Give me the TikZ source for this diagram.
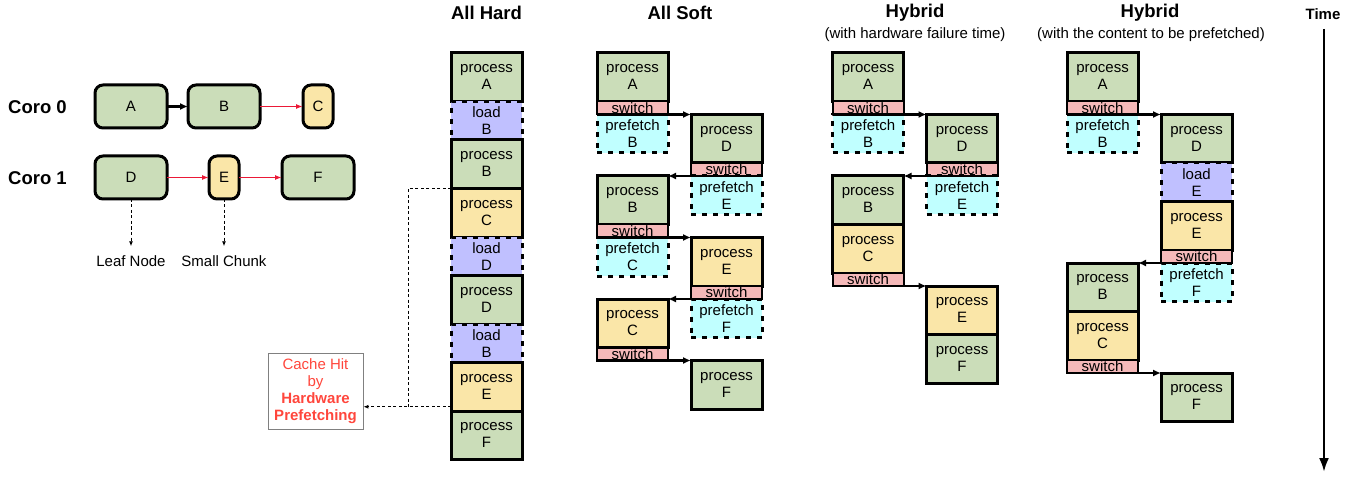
\documentclass[tikz,border=0pt]{standalone}
\usepackage{fontspec}
\setmainfont{Liberation Sans}
\usetikzlibrary{positioning,arrows.meta}
\definecolor{procgreen}{RGB}{203,221,185}
\definecolor{procyellow}{RGB}{250,230,168}
\definecolor{loadblue}{RGB}{192,192,255}
\definecolor{prefcyan}{RGB}{192,255,255}
\definecolor{swpink}{RGB}{245,185,185}
\definecolor{hitred}{RGB}{255,70,60}
\definecolor{edgered}{RGB}{235,25,55}
\tikzset{
  txt/.style={font=\fontsize{15}{17}\selectfont},
  head/.style={font=\bfseries\fontsize{18.5}{20}\selectfont},
  blk/.style={txt, draw, line width=3pt, minimum width=71pt, inner sep=0pt, outer sep=0pt, align=center},
  proc/.style={blk, minimum height=48.5pt, fill=procgreen},
  procy/.style={proc, fill=procyellow},
  load/.style={blk, minimum height=38.5pt, fill=loadblue, dash pattern=on 5pt off 6pt},
  pref/.style={load, fill=prefcyan},
  sw/.style={blk, minimum height=13pt, fill=swpink, line width=2pt},
  hop/.style={line width=2.5pt, -{Latex[length=8pt,width=7pt]}},
  leg/.style={txt, draw, line width=3pt, rounded corners=8pt, fill=procgreen, minimum width=72pt, minimum height=43pt, outer sep=0pt},
  legy/.style={leg, fill=procyellow, minimum width=30pt},
  redarrow/.style={edgered, line width=1.8pt, -{Latex[length=7pt,width=5pt]}},
  hint/.style={line width=0.9pt, dash pattern=on 3pt off 2.5pt},
  lbl/.style={txt, inner ysep=9pt}
}
\begin{document}
\begin{tikzpicture}[x=1pt,y=-1pt]
\useasboundingbox (0,0) rectangle (1365,481);

\node[head] (coro0) at (37.5,107) {Coro 0};
\node[head] (coro1) at (37.5,178) {Coro 1};
\node[leg] (A) at (131,106.5) {A};
\node[leg, right=21pt of A] (B) {B};
\node[legy, right=43pt of B] (C) {C};
\node[leg, below=28pt of A] (D) {D};
\node[legy, right=42pt of D] (E) {E};
\node[leg, right=43pt of E] (F) {F};
\node[lbl] (leaf) at (131,261) {Leaf Node};
\node[lbl] (chunk) at (224,261) {Small Chunk};
\draw[line width=2.5pt, -{Latex[length=8pt,width=7pt]}] (A) -- (B);
\draw[redarrow] (B) -- (C);
\draw[redarrow] (D) -- (E);
\draw[redarrow] (E) -- (F);
\draw[hint, -{Latex[length=5pt,width=4pt]}] (D) -- (leaf);
\draw[hint, -{Latex[length=5pt,width=4pt]}] (E) -- (chunk);

\node[head] (thard) at (486.5,13) {All Hard};
\node[proc] (hA) at (486.5,77.25) {process\\A};
\node[load, below=0pt of hA] (hlB) {load\\B};
\node[proc, below=0pt of hlB] (hB) {process\\B};
\node[procy, below=0pt of hB] (hC) {process\\C};
\node[load, below=0pt of hC] (hlD) {load\\D};
\node[proc, below=0pt of hlD] (hD) {process\\D};
\node[load, below=0pt of hD] (hlB2) {load\\B};
\node[procy, below=0pt of hlB2] (hE) {process\\E};
\node[proc, below=0pt of hE] (hF) {process\\F};
\node[txt, draw=gray, line width=0.8pt, text=hitred, align=center, minimum width=95pt, minimum height=76pt] (hit) at (315.5,391) {Cache Hit\\by\\\textbf{Hardware}\\\textbf{Prefetching}};
\coordinate (hitpt) at ([yshift=-20pt]hE.west);
\coordinate (bend) at ([xshift=-43pt]hC.north west);
\draw[hint] (hC.north west) -- (bend) -- (bend |- hitpt);
\draw[hint, -{Latex[length=5pt,width=4pt]}] (hitpt) -- (hit.east |- hitpt);

\node[head] (tsoft) at (680,13) {All Soft};
\node[proc] (sA) at (632.5,77.25) {process\\A};
\node[sw, below=0pt of sA] (sAsw) {switch};
\node[pref, below=0pt of sAsw] (sAp) {prefetch\\B};
\node[proc, below right=0pt and 23pt of sAsw] (sD) {process\\D};
\node[sw, below=0pt of sD] (sDsw) {switch};
\node[pref, below=0pt of sDsw] (sDp) {prefetch\\E};
\node[proc, below left=0pt and 23pt of sDsw] (sB) {process\\B};
\node[sw, below=0pt of sB] (sBsw) {switch};
\node[pref, below=0pt of sBsw] (sBp) {prefetch\\C};
\node[procy, below right=0pt and 23pt of sBsw] (sE) {process\\E};
\node[sw, below=0pt of sE] (sEsw) {switch};
\node[pref, below=0pt of sEsw] (sEp) {prefetch\\F};
\node[procy, below left=0pt and 23pt of sEsw] (sC) {process\\C};
\node[sw, below=0pt of sC] (sCsw) {switch};
\node[proc, below right=0pt and 23pt of sCsw] (sF) {process\\F};
\draw[hop] (sAsw.south west) -- (sD.north west);
\draw[hop] (sDsw.south east) -- (sB.north east);
\draw[hop] (sBsw.south west) -- (sE.north west);
\draw[hop] (sEsw.south east) -- (sC.north east);
\draw[hop] (sCsw.south west) -- (sF.north west);

\node[head] (thyb) at (915,13) {Hybrid};
\node[txt] (thybsub) at (915,35) {(with hardware failure time)};
\node[proc] (yA) at (868,77.25) {process\\A};
\node[sw, below=0pt of yA] (yAsw) {switch};
\node[pref, below=0pt of yAsw] (yAp) {prefetch\\B};
\node[proc, below right=0pt and 23pt of yAsw] (yD) {process\\D};
\node[sw, below=0pt of yD] (yDsw) {switch};
\node[pref, below=0pt of yDsw] (yDp) {prefetch\\E};
\node[proc, below left=0pt and 23pt of yDsw] (yB) {process\\B};
\node[procy, below=0pt of yB] (yC) {process\\C};
\node[sw, below=0pt of yC] (yCsw) {switch};
\node[procy, below right=0pt and 23pt of yCsw] (yE) {process\\E};
\node[proc, below=0pt of yE] (yF) {process\\F};
\draw[hop] (yAsw.south west) -- (yD.north west);
\draw[hop] (yDsw.south east) -- (yB.north east);
\draw[hop] (yCsw.south west) -- (yE.north west);

\node[head] (tmix) at (1150,13) {Hybrid};
\node[txt] (tmixsub) at (1151,35) {(with the content to be prefetched)};
\node[proc] (mA) at (1102.5,77.25) {process\\A};
\node[sw, below=0pt of mA] (mAsw) {switch};
\node[pref, below=0pt of mAsw] (mAp) {prefetch\\B};
\node[proc, below right=0pt and 23pt of mAsw] (mD) {process\\D};
\node[load, below=0pt of mD] (mlE) {load\\E};
\node[procy, below=0pt of mlE] (mE) {process\\E};
\node[sw, below=0pt of mE] (mEsw) {switch};
\node[pref, below=0pt of mEsw] (mEp) {prefetch\\F};
\node[proc, below left=0pt and 23pt of mEsw] (mB) {process\\B};
\node[procy, below=0pt of mB] (mC) {process\\C};
\node[sw, below=0pt of mC] (mCsw) {switch};
\node[proc, below right=0pt and 23pt of mCsw] (mF) {process\\F};
\draw[hop] (mAsw.south west) -- (mD.north west);
\draw[hop] (mEsw.south east) -- (mB.north east);
\draw[hop] (mCsw.south west) -- (mF.north west);

\node[txt, font=\bfseries\fontsize{15}{17}\selectfont] (time) at (1323,14) {Time};
\coordinate (tstart) at (1324,29);
\coordinate (tend) at (1324,472);
\draw[line width=2.5pt, -{Latex[length=14pt,width=10pt]}] (tstart) -- (tend);
\end{tikzpicture}
\end{document}
